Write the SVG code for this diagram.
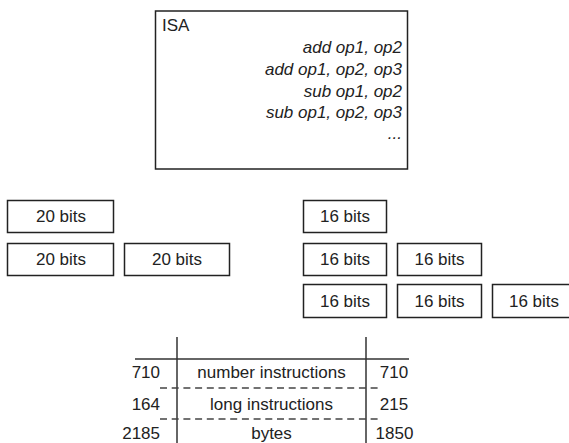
<svg xmlns="http://www.w3.org/2000/svg" width="569" height="443" viewBox="0 0 569 443">
<style>
text{font-family:"Liberation Sans",Arial,sans-serif;font-size:17px;fill:#222}
.it{font-style:italic}
.box{fill:#fff;stroke:#222;stroke-width:1.5}
.ln{stroke:#333;stroke-width:1.5;fill:none}
.dash{stroke:#444;stroke-width:1.3;stroke-dasharray:7 4.7;fill:none}
.c{text-anchor:middle}
.r{text-anchor:end}
</style>
<rect width="569" height="443" fill="#fff"/>
<g id="isa">
<rect class="box" x="155.5" y="11" width="252" height="158"/>
<text x="162" y="31">ISA</text>
<text class="it r" x="402" y="53">add op1, op2</text>
<text class="it r" x="402" y="75">add op1, op2, op3</text>
<text class="it r" x="402" y="97">sub op1, op2</text>
<text class="it r" x="402" y="118">sub op1, op2, op3</text>
<text class="it r" x="402" y="139">...</text>
</g>
<g id="a1"><rect class="box" x="7.5" y="200.5" width="106" height="32"/><text class="c" x="61" y="222">20 bits</text></g>
<g id="a2"><rect class="box" x="7.5" y="243.5" width="106" height="32"/><text class="c" x="61" y="265">20 bits</text></g>
<g id="a3"><rect class="box" x="124.5" y="243.5" width="105" height="32"/><text class="c" x="177" y="265">20 bits</text></g>
<g id="b1"><rect class="box" x="303.5" y="200.5" width="83" height="32"/><text class="c" x="345" y="222">16 bits</text></g>
<g id="b2"><rect class="box" x="303.5" y="243.5" width="83" height="32"/><text class="c" x="345" y="265">16 bits</text></g>
<g id="b3"><rect class="box" x="397.5" y="243.5" width="84" height="32"/><text class="c" x="439.5" y="265">16 bits</text></g>
<g id="b4"><rect class="box" x="303.5" y="284.5" width="83" height="33"/><text class="c" x="345" y="307">16 bits</text></g>
<g id="b5"><rect class="box" x="397.5" y="284.5" width="84" height="33"/><text class="c" x="439.5" y="307">16 bits</text></g>
<g id="b6"><rect class="box" x="492.5" y="284.5" width="84" height="33"/><text class="c" x="534" y="307">16 bits</text></g>
<g id="table">
<line class="ln" x1="177" y1="337" x2="177" y2="443"/>
<line class="ln" x1="366" y1="337" x2="366" y2="443"/>
<line class="ln" x1="135" y1="359" x2="409" y2="359"/>
<line class="dash" x1="160" y1="388" x2="382" y2="388"/>
<line class="dash" x1="160" y1="419" x2="382" y2="419"/>
<text class="r" x="160" y="378">710</text>
<text class="c" x="271.5" y="378">number instructions</text>
<text class="c" x="394" y="378">710</text>
<text class="r" x="160" y="409.5">164</text>
<text class="c" x="271.5" y="409.5">long instructions</text>
<text class="c" x="394" y="409.5">215</text>
<text class="r" x="160" y="439">2185</text>
<text class="c" x="271.5" y="439">bytes</text>
<text class="c" x="394.5" y="439">1850</text>
</g>
</svg>
